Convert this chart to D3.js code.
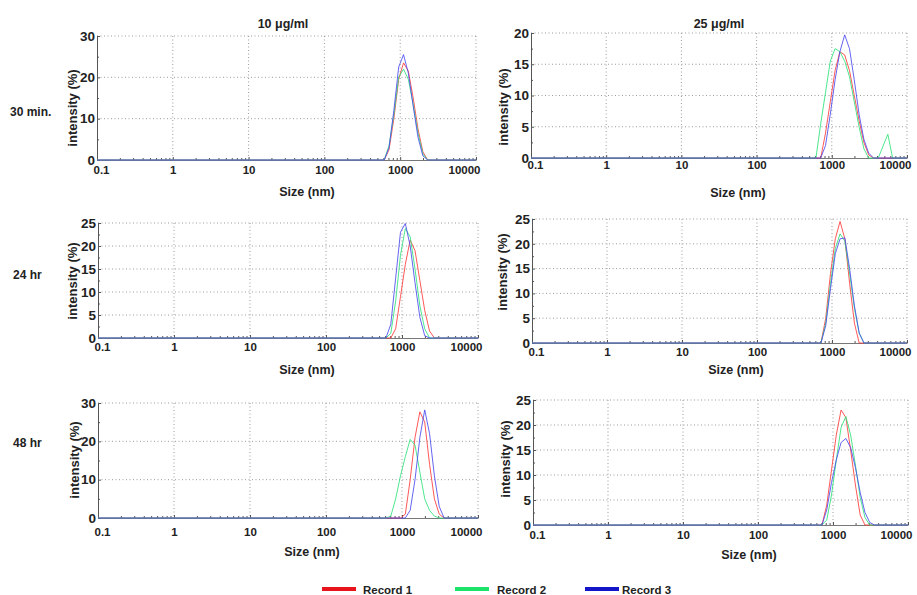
<!DOCTYPE html>
<html>
<head>
<meta charset="utf-8">
<script src="https://cdn.jsdelivr.net/npm/d3@7"></script>
<style>
  body { margin: 0; background: #fff; }
  svg { display: block; font-family: "Liberation Sans", Arial, sans-serif; font-weight: bold; }
</style>
</head>
<body>
<svg id="chart" width="917" height="595"></svg>
<script>
// size bins (nm) shared by all records
const sizeBins = [0.1, 531.2, 615.1, 712.4, 825, 955.4, 1106, 1281, 1484, 1718, 1990, 2305, 2669, 3091, 3580, 4145, 4801, 5560, 6439, 10000];

// intensity (%) per bin
// 10 ug/ml, 30 min
const rec1_10_30 = [0, 0, 0, 2.5, 10, 19.5, 23.5, 21.5, 15, 7.5, 2, 0, 0, 0, 0, 0, 0, 0, 0, 0];
const rec2_10_30 = [0, 0, 0, 3.5, 11, 20, 22, 19.5, 13.5, 6.5, 1.5, 0, 0, 0, 0, 0, 0, 0, 0, 0];
const rec3_10_30 = [0, 0, 0, 3, 12, 22.5, 25.5, 21, 13, 5.5, 1, 0, 0, 0, 0, 0, 0, 0, 0, 0];
// 25 ug/ml, 30 min
const rec1_25_30 = [0, 0, 0, 0, 4, 9, 14, 17, 16.5, 14, 10, 6, 2.5, 0.5, 0, 0, 0, 0, 0, 0];
const rec2_25_30 = [0, 0, 0, 5.5, 10.5, 15.5, 17.5, 17, 15.5, 13, 9, 5, 1.5, 0, 0, 0, 1.9, 3.8, 0, 0];
const rec3_25_30 = [0, 0, 0, 0, 2, 7, 12.5, 17, 19.7, 17.5, 12.5, 7, 3, 0.8, 0, 0, 0, 0, 0, 0];
// 10 ug/ml, 24 hr
const rec1_10_24 = [0, 0, 0, 0, 2, 9, 16, 21.3, 19, 12.5, 6, 1.5, 0, 0, 0, 0, 0, 0, 0, 0];
const rec2_10_24 = [0, 0, 0, 1, 8, 18, 23.8, 22, 15, 7, 2, 0, 0, 0, 0, 0, 0, 0, 0, 0];
const rec3_10_24 = [0, 0, 0, 3, 13, 23, 24.9, 20, 12, 4.5, 0.5, 0, 0, 0, 0, 0, 0, 0, 0, 0];
// 25 ug/ml, 24 hr
const rec1_25_24 = [0, 0, 0, 0, 5, 14, 21, 24.5, 21, 12, 4, 0, 0, 0, 0, 0, 0, 0, 0, 0];
const rec2_25_24 = [0, 0, 0, 0, 4, 12, 19, 22, 20.5, 14, 7, 2, 0, 0, 0, 0, 0, 0, 0, 0];
const rec3_25_24 = [0, 0, 0, 0, 3.5, 11, 18, 21, 21.2, 15, 7.5, 2, 0, 0, 0, 0, 0, 0, 0, 0];
// 10 ug/ml, 48 hr
const rec1_10_48 = [0, 0, 0, 0, 0, 0, 1, 10, 21, 27.7, 25, 14, 5, 1, 0, 0, 0, 0, 0, 0];
const rec2_10_48 = [0, 0, 0, 0.5, 5, 11, 16, 20.5, 19, 12, 5, 2, 0.5, 0, 0, 0, 0, 0, 0, 0];
const rec3_10_48 = [0, 0, 0, 0, 0, 0, 0, 2, 10, 21, 28.2, 22, 11, 3, 0, 0, 0, 0, 0, 0];
// 25 ug/ml, 48 hr
const rec1_25_48 = [0, 0, 0, 0, 4, 11, 18, 23, 21.5, 15, 8, 2, 0, 0, 0, 0, 0, 0, 0, 0];
const rec2_25_48 = [0, 0, 0, 0, 1, 6, 13, 19.5, 21.7, 18, 12, 5.5, 1.5, 0, 0, 0, 0, 0, 0, 0];
const rec3_25_48 = [0, 0, 0, 0, 3, 8.5, 13, 16.5, 17.3, 15.5, 11.5, 6.5, 2.5, 0.5, 0, 0, 0, 0, 0, 0];

const columnTitles = ['10 μg/ml', '25 μg/ml'];
const rowTitles = ['30 min.', '24 hr', '48 hr'];
const recordNames = ['Record 1', 'Record 2', 'Record 3'];
const xTickValues = [0.1, 1, 10, 100, 1000, 10000];
const xTickLabels = ['0.1', '1', '10', '100', '1000', '10000'];

const lineColors = ['#ff3b3b', '#2ee27a', '#4a4aee'];
const legendColors = ['#e8141c', '#1ee36a', '#1414c8'];

// panel boxes in pixels (layout only)
const panels = [
  { box: [97, 476, 36, 160], yMax: 30, yStep: 10, pad: 6, sx: 307, sy: 196, lx: 74, ly: 108, recs: [rec1_10_30, rec2_10_30, rec3_10_30] },
  { box: [531, 907, 33, 158], yMax: 20, yStep: 5, pad: 3, sx: 738, sy: 197, lx: 505, ly: 107, recs: [rec1_25_30, rec2_25_30, rec3_25_30] },
  { box: [98, 478, 223, 338], yMax: 25, yStep: 5, pad: 5, sx: 307, sy: 374, lx: 74, ly: 281, recs: [rec1_10_24, rec2_10_24, rec3_10_24] },
  { box: [532, 907, 219, 343], yMax: 25, yStep: 5, pad: 5, sx: 736, sy: 374, lx: 504, ly: 272, recs: [rec1_25_24, rec2_25_24, rec3_25_24] },
  { box: [98, 478, 403, 518], yMax: 30, yStep: 10, pad: 10, sx: 312, sy: 556, lx: 76, ly: 460, recs: [rec1_10_48, rec2_10_48, rec3_10_48] },
  { box: [533, 908, 400, 525], yMax: 25, yStep: 5, pad: 6, sx: 749, sy: 559, lx: 507, ly: 459, recs: [rec1_25_48, rec2_25_48, rec3_25_48] }
];

const svg = d3.select('#chart');

// column and row titles
svg.selectAll('.coltitle').data(columnTitles).join('text')
  .attr('x', (d, i) => i === 0 ? 283 : 719)
  .attr('y', 28)
  .attr('text-anchor', 'middle')
  .attr('font-size', 12.5)
  .attr('fill', '#222')
  .text(d => d);

svg.selectAll('.rowtitle').data(rowTitles).join('text')
  .attr('x', (d, i) => i === 0 ? 10 : 13)
  .attr('y', (d, i) => [116, 279, 447][i])
  .attr('font-size', 12)
  .attr('fill', '#222')
  .text(d => d);

panels.forEach(p => {
  const [left, right, top, bottom] = p.box;
  const x = d3.scaleLog().domain([0.1, 10000]).range([left, right]);
  const y = d3.scaleLinear().domain([0, p.yMax]).range([bottom, top]);
  const majors = d3.range(0, p.yMax + 0.001, p.yStep);
  const minors = d3.range(p.yStep / 2, p.yMax, p.yStep);

  const g = svg.append('g');

  // dotted grid
  g.selectAll('.gx').data(xTickValues.slice(1)).join('line')
    .attr('x1', d => x(d)).attr('x2', d => x(d))
    .attr('y1', top).attr('y2', bottom)
    .attr('stroke', '#9a9a9a').attr('stroke-width', 1)
    .attr('stroke-dasharray', '1,2.5');
  g.selectAll('.gy').data(majors.slice(1)).join('line')
    .attr('x1', left).attr('x2', right)
    .attr('y1', d => y(d)).attr('y2', d => y(d))
    .attr('stroke', '#9a9a9a').attr('stroke-width', 1)
    .attr('stroke-dasharray', '1,2.5');

  // x axis
  const xAxis = d3.axisBottom(x)
    .tickValues(xTickValues)
    .tickFormat((d, i) => xTickLabels[i])
    .tickSizeInner(-3).tickSizeOuter(0)
    .tickPadding(p.pad);
  const xa = g.append('g').attr('transform', `translate(0,${bottom})`).call(xAxis);
  xa.select('.domain').attr('stroke', '#777');
  xa.selectAll('.tick line').attr('stroke', '#555');
  xa.selectAll('text').attr('font-size', 11.5).attr('fill', '#222')
    .attr('font-family', '"Liberation Sans", Arial, sans-serif').attr('font-weight', 'bold')
    .attr('dx', (d, i) => i === 0 ? 4 : (i === xTickValues.length - 1 ? -12 : 0));

  const minorX = x.ticks().filter(t => !xTickValues.some(v => Math.abs(v - t) / v < 1e-6));
  g.append('g').attr('transform', `translate(0,${bottom})`)
    .call(d3.axisBottom(x).tickValues(minorX).tickFormat('').tickSizeInner(-2).tickSizeOuter(0))
    .call(s => s.select('.domain').remove())
    .selectAll('line').attr('stroke', '#555');

  // y axis
  const yAxis = d3.axisLeft(y)
    .tickValues(majors)
    .tickSizeInner(-3).tickSizeOuter(0)
    .tickPadding(2);
  const ya = g.append('g').attr('transform', `translate(${left},0)`).call(yAxis);
  ya.select('.domain').attr('stroke', '#555');
  ya.selectAll('.tick line').attr('stroke', '#555');
  ya.selectAll('text').attr('font-size', 13.5).attr('fill', '#222')
    .attr('font-family', '"Liberation Sans", Arial, sans-serif').attr('font-weight', 'bold');
  g.append('g').attr('transform', `translate(${left},0)`)
    .call(d3.axisLeft(y).tickValues(minors).tickFormat('').tickSizeInner(-2).tickSizeOuter(0))
    .call(s => s.select('.domain').remove())
    .selectAll('line').attr('stroke', '#555');

  // axis titles
  g.append('text')
    .attr('x', p.sx).attr('y', p.sy)
    .attr('text-anchor', 'middle')
    .attr('font-size', 12.5).attr('fill', '#222')
    .text('Size (nm)');
  g.append('text')
    .attr('transform', `translate(${p.lx},${p.ly}) rotate(-90)`)
    .attr('text-anchor', 'middle')
    .attr('dominant-baseline', 'middle')
    .attr('font-size', 13).attr('fill', '#222')
    .text('intensity (%)');

  // records
  const line = d3.line()
    .x((d, i) => x(sizeBins[i]))
    .y(d => y(d));
  p.recs.forEach((rec, k) => {
    g.append('path')
      .datum(rec)
      .attr('fill', 'none')
      .attr('stroke', lineColors[k])
      .attr('stroke-width', 1)
      .attr('opacity', 0.85)
      .attr('d', line);
  });
});

// legend
const legendX = [322, 455, 585];
const lg = svg.selectAll('.legend').data(recordNames).join('g')
  .attr('transform', (d, i) => `translate(${legendX[i]},589)`);
lg.append('line')
  .attr('x1', 0).attr('x2', 34).attr('y1', 0).attr('y2', 0)
  .attr('stroke', (d, i) => legendColors[i])
  .attr('stroke-width', 4);
lg.append('text')
  .attr('x', (d, i) => [41, 42, 37][i])
  .attr('y', 4.5)
  .attr('font-size', 11.5)
  .attr('fill', '#222')
  .text(d => d);
</script>
</body>
</html>
